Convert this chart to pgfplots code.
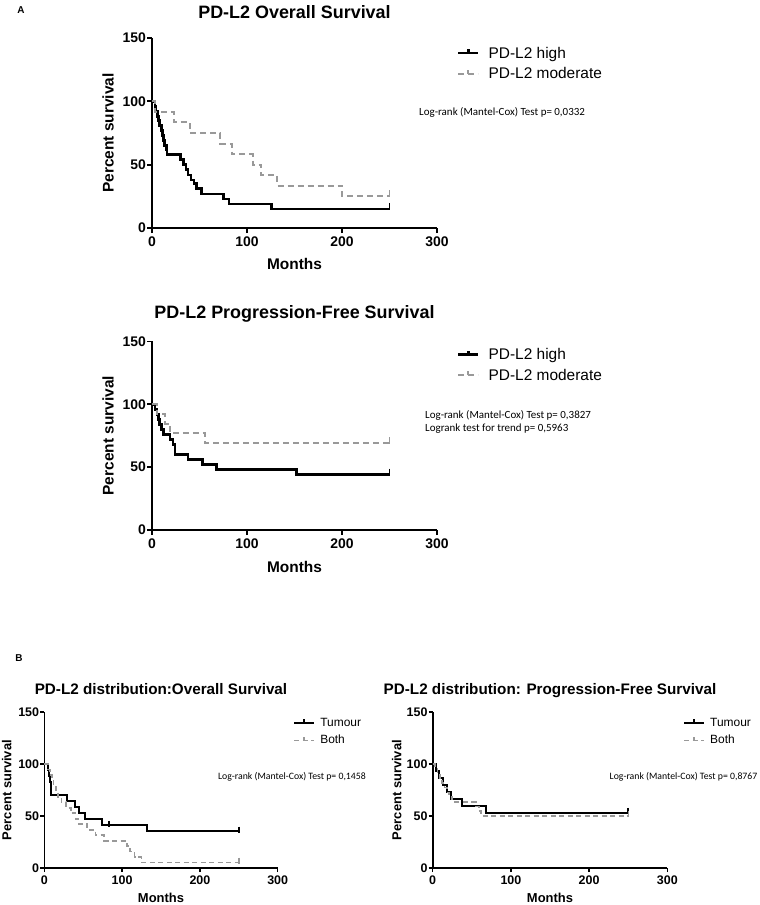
\documentclass[border=0pt]{standalone}
\usepackage{pgfplots}
\pgfplotsset{compat=1.18}
\usepackage{fontspec}
\setmainfont{Liberation Sans}
\newfontfamily\calib{Carlito}
\definecolor{dgrey}{gray}{0.6}

\tikzset{
 lr/.style={anchor=west, inner sep=0pt, font=\calib\fontsize{11}{11}\selectfont},
 lrs/.style={anchor=center, inner sep=0pt, font=\calib\fontsize{9.8}{9.8}\selectfont},
}

\pgfplotsset{
 km/.style={
   scale only axis, axis lines*=left, clip=false,
   xmin=0,xmax=300,ymin=0,ymax=150,
   xtick={0,100,200,300}, ytick={0,50,100,150},
   tick align=outside, major tick length=5bp,
   axis line style={line width=2bp},
   major tick style={black, line width=1.8bp},
   /pgf/number format/assume math mode=true,
   tick label style={font=\bfseries\fontsize{14}{14}\selectfont},
   yticklabel style={inner xsep=1bp},
   label style={font=\bfseries\fontsize{15.5}{15.5}\selectfont},
   title style={font=\bfseries\fontsize{18}{18}\selectfont, at={(0.5,1)}, anchor=base},
   legend style={draw=none, fill=none, anchor=north west, inner sep=0pt, font=\fontsize{15.5}{18}\selectfont, row sep=4bp,
     /tikz/every odd column/.append style={column sep=7bp}},
   legend cell align=left,
   legend image code/.code={\draw[##1] (0bp,0bp) -- (20bp,0bp); \draw[##1,solid] (10bp,0bp) -- (10bp,4bp);},
 },
 kmsmall/.style={
   km,
   axis line style={line width=1.6bp},
   major tick style={black, line width=1.5bp},
   major tick length=4bp,
   tick label style={font=\bfseries\fontsize{12.5}{12.5}\selectfont},
   label style={font=\bfseries\fontsize{13}{13}\selectfont},
   title style={font=\bfseries\fontsize{15.3}{15.3}\selectfont, at={(0.5,1)}, anchor=base, yshift=12bp},
   legend style={font=\fontsize{12}{14}\selectfont, row sep=3.5bp,
     /tikz/every odd column/.append style={column sep=3bp}},
   legend image code/.code={\draw[##1] (0bp,0bp) -- (20bp,0bp); \draw[##1,solid] (10bp,0bp) -- (10bp,3.5bp);},
 },
 hi/.style={const plot, black, line width=2.5bp},
 mo/.style={const plot, dgrey, line width=2bp, dash pattern=on 6bp off 4bp},
 his/.style={const plot, black, line width=2bp},
 mos/.style={const plot, dgrey, line width=1.7bp, dash pattern=on 5bp off 3.5bp},
 cen/.style={only marks, mark=|, mark size=3.5bp, forget plot},
}

\begin{document}
\begin{tikzpicture}[x=1bp,y=1bp]
\useasboundingbox (0,0) rectangle (760,-905);
\node[font=\bfseries\fontsize{10}{10}\selectfont] at (21,-10) {A};
\node[font=\bfseries\fontsize{10}{10}\selectfont] at (19,-658) {B};

% ---------- Plot 1 ----------
\begin{axis}[km, at={(152bp,-228bp)}, anchor=south west, width=285bp, height=190bp,
  title={PD-L2 Overall Survival}, title style={yshift=14bp},
  xlabel={Months}, ylabel={Percent survival},
  xlabel style={at={(axis description cs:0.5,-0.189)}, anchor=center},
  ylabel style={at={(axis description cs:-0.154,0.5)}, anchor=center},
  legend style={at={(1.07,0.965)}}]
\addplot[hi] coordinates {(0,100) (3,96) (4,92) (6,88) (7,85) (8,81) (10,77) (11,73) (12,69) (13,65) (15,62) (16,58) (30,54) (33,50) (36,46) (38,42) (41,38) (44,35) (47,31) (52,27) (75,23) (81,19) (126,15) (250,15)};
\addlegendentry{PD-L2 high}
\addplot[mo] coordinates {(0,100) (3,91.7) (23,83.3) (40,75) (72,66.7) (84,58.3) (106,50) (115,41.7) (132,33.3) (200,25) (250,25)};
\addlegendentry{PD-L2 moderate}
\addplot[cen, black, mark options={line width=1.8bp}] coordinates {(250,17)};
\addplot[cen, dgrey, mark options={line width=1.6bp}] coordinates {(250,27)};
\node[lr] at (rel axis cs:0.937,0.61) {Log-rank (Mantel-Cox) Test p= 0,0332};
\end{axis}

% ---------- Plot 2 ----------
\begin{axis}[km, at={(152bp,-530bp)}, anchor=south west, width=285bp, height=188.6bp,
  title={PD-L2 Progression-Free Survival}, title style={yshift=17bp},
  xlabel={Months}, ylabel={Percent survival},
  xlabel style={at={(axis description cs:0.5,-0.196)}, anchor=center},
  ylabel style={at={(axis description cs:-0.154,0.5)}, anchor=center},
  legend style={at={(1.07,0.975)}}]
\addplot[hi] coordinates {(0,100) (3,96) (5,92) (7,88) (8,84) (10,80) (12,76) (19,72) (22,68) (24,60) (38,56) (53,52) (68,48) (152,44) (250,44)};
\addlegendentry{PD-L2 high}
\addplot[mo] coordinates {(0,100) (5,92.3) (14,84.6) (19,76.9) (56,69.2) (250,69.2)};
\addlegendentry{PD-L2 moderate}
\addplot[cen, black, mark options={line width=1.8bp}] coordinates {(250,46)};
\addplot[cen, dgrey, mark options={line width=1.6bp}] coordinates {(250,71)};
\node[lr] at (rel axis cs:0.958,0.61) {Log-rank (Mantel-Cox) Test p= 0,3827};
\node[lr] at (rel axis cs:0.958,0.54) {Logrank test for trend p= 0,5963};
\end{axis}

% ---------- Plot 3 ----------
\begin{axis}[kmsmall, at={(44.3bp,-868bp)}, anchor=south west, width=233.4bp, height=156bp,
  title={PD-L2 distribution:Overall Survival},
  xlabel={Months}, ylabel={Percent survival},
  xlabel style={at={(axis description cs:0.5,-0.192)}, anchor=center},
  ylabel style={at={(axis description cs:-0.161,0.5)}, anchor=center},
  legend style={at={(1.066,0.975)}}]
\addplot[his] coordinates {(0,100) (5,94.1) (6,88.2) (7,82.4) (8,76.5) (9,70.6) (29,64.7) (40,58.8) (45,52.9) (52,47.1) (74,41.2) (132,35.3) (250,35.3)};
\addlegendentry{Tumour}
\addplot[mos] coordinates {(0,100) (5,94.7) (7,89.5) (10,84.2) (12,78.9) (15,73.7) (18,68.4) (22,63.2) (28,57.9) (34,52.6) (40,47.4) (44,42.1) (55,36.8) (66,31.6) (77,26.3) (106,21.1) (110,15.8) (116,10.5) (125,5.3) (250,5.3)};
\addlegendentry{Both}
\addplot[cen, black, mark size=3bp, mark options={line width=1.5bp}] coordinates {(83,42.5) (250,37)};
\addplot[cen, dgrey, mark size=3bp, mark options={line width=1.4bp}] coordinates {(250,7)};
\node[lrs] at (rel axis cs:1.061,0.583) {Log-rank (Mantel-Cox) Test p= 0,1458};
\end{axis}

% ---------- Plot 4 ----------
\begin{axis}[kmsmall, at={(432.7bp,-868bp)}, anchor=south west, width=234.6bp, height=156bp,
  title={PD-L2 distribution: Progression-Free Survival},
  xlabel={Months}, ylabel={Percent survival},
  xlabel style={at={(axis description cs:0.5,-0.192)}, anchor=center},
  ylabel style={at={(axis description cs:-0.153,0.5)}, anchor=center},
  legend style={at={(1.067,0.975)}}]
\addplot[his] coordinates {(0,100) (4,93.3) (8,86.7) (13,80) (18,73.3) (23,66.7) (38,60) (68,53.3) (250,53.3)};
\addlegendentry{Tumour}
\addplot[mos] coordinates {(0,100) (3,95.5) (6,90.9) (9,86.4) (12,81.8) (15,77.3) (18,72.7) (21,68.2) (25,63.6) (55,59.1) (59,54.5) (62,50) (250,50)};
\addlegendentry{Both}
\addplot[cen, black, mark size=3bp, mark options={line width=1.5bp}] coordinates {(250,55)};
\addplot[cen, dgrey, mark size=3bp, mark options={line width=1.4bp}] coordinates {(250,51.5)};
\node[lrs] at (rel axis cs:1.069,0.583) {Log-rank (Mantel-Cox) Test p= 0,8767};
\end{axis}
\end{tikzpicture}
\end{document}
